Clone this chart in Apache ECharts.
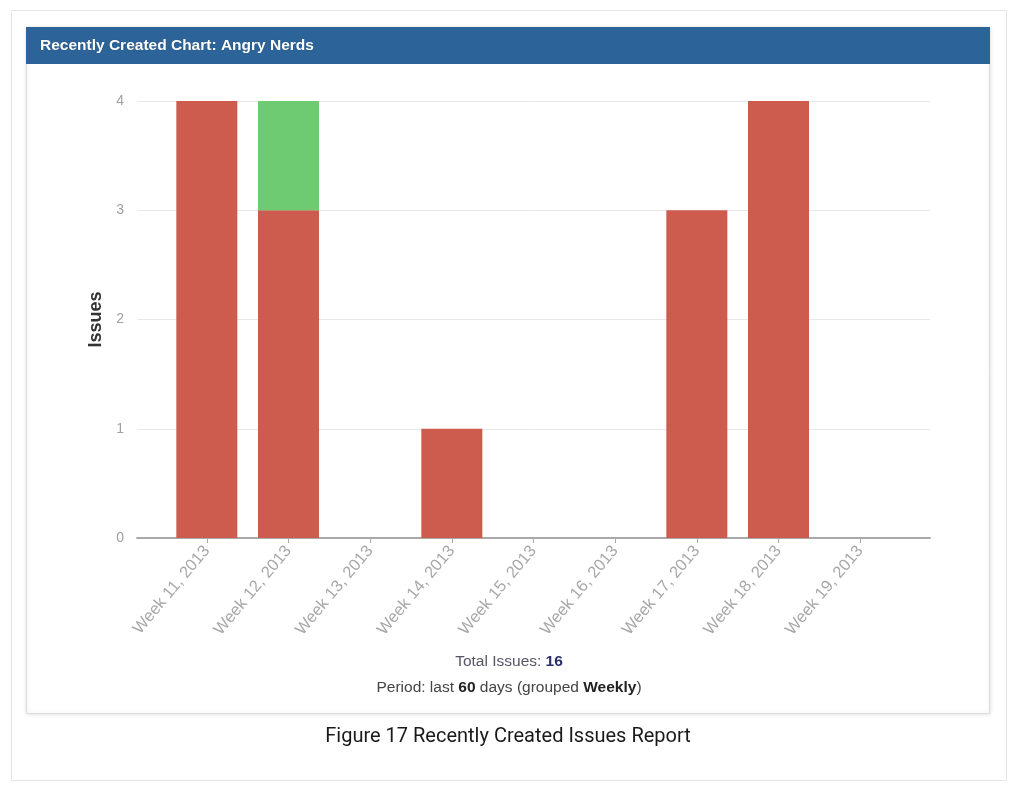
<!DOCTYPE html>
<html>
<head>
<meta charset="utf-8">
<script src="https://cdn.jsdelivr.net/npm/echarts@6/dist/echarts.min.js"></script>
<style>
html,body{margin:0;padding:0;background:#fff;}
#chart{width:1024px;height:801px;}
</style>
</head>
<body>
<div id="chart"></div>
<script>
// ---- data ----
const categories = ['Week 11, 2013','Week 12, 2013','Week 13, 2013','Week 14, 2013','Week 15, 2013','Week 16, 2013','Week 17, 2013','Week 18, 2013','Week 19, 2013'];
const createdValues = [4, 3, 0, 1, 0, 0, 3, 4, 0];
const resolvedValues = [0, 1, 0, 0, 0, 0, 0, 0, 0];
const yTicks = [0, 1, 2, 3, 4];
const chartTitle = 'Recently Created Chart: Angry Nerds';
const totalIssues = 16;
const periodDays = 60;
const groupedBy = 'Weekly';
const caption = 'Figure 17 Recently Created Issues Report';

const chart = echarts.init(document.getElementById('chart'), null, {renderer: 'canvas'});
const sansFont = 'Liberation Sans, Arial, sans-serif';

const option = {
  animation: false,
  backgroundColor: '#ffffff',
  graphic: [
    {type: 'rect', z: -10, shape: {x: 11.5, y: 10.5, width: 995, height: 770}, style: {fill: '#ffffff', stroke: '#e6e6e6', lineWidth: 1}},
    {type: 'rect', z: -9, shape: {x: 26.5, y: 27.5, width: 963, height: 686}, style: {fill: '#ffffff', stroke: '#dcdcdc', lineWidth: 1, shadowBlur: 4, shadowColor: 'rgba(0,0,0,0.12)'}},
    {type: 'rect', z: -8, shape: {x: 26, y: 27, width: 964, height: 37}, style: {fill: '#2c6398'}},
    {type: 'text', z: 10, x: 40, y: 46, style: {text: chartTitle, fill: '#ffffff', font: 'bold 15.5px ' + sansFont, verticalAlign: 'middle', textShadowColor: 'rgba(0,0,0,0.3)', textShadowBlur: 1}},
    {type: 'text', z: 10, x: 509, y: 662, style: {
      text: '{n|Total Issues: }{b|' + totalIssues + '}',
      align: 'center', verticalAlign: 'middle',
      rich: {
        n: {fill: '#555566', font: '15.5px ' + sansFont},
        b: {fill: '#2b2e6b', font: 'bold 15.5px ' + sansFont}
      }
    }},
    {type: 'text', z: 10, x: 509, y: 688, style: {
      text: '{n|Period: last }{b|' + periodDays + '}{n| days (grouped }{b|' + groupedBy + '}{n|)}',
      align: 'center', verticalAlign: 'middle',
      rich: {
        n: {fill: '#444444', font: '15.5px ' + sansFont},
        b: {fill: '#222222', font: 'bold 15.5px ' + sansFont}
      }
    }},
    {type: 'text', z: 10, x: 508, y: 737, style: {text: caption, fill: '#1a1a1a', font: '20px Roboto, sans-serif', align: 'center', verticalAlign: 'middle'}}
  ],
  grid: [
    {left: 137, right: 94, top: 101, bottom: 263},
    {left: 166, right: 123, top: 101, bottom: 263}
  ],
  xAxis: [
    {
      gridIndex: 0, type: 'category', data: [''],
      axisLine: {show: true, lineStyle: {color: '#a9a9a9', width: 2}},
      axisTick: {show: false}, axisLabel: {show: false}, splitLine: {show: false}
    },
    {
      gridIndex: 1, type: 'category', data: categories,
      axisLine: {show: false},
      axisTick: {show: true, alignWithLabel: true, length: 5, lineStyle: {color: '#a9a9a9'}},
      axisLabel: {rotate: 50, color: '#a8a8a8', fontSize: 16.5, fontFamily: sansFont, margin: 10, interval: 0},
      splitLine: {show: false}
    }
  ],
  yAxis: [
    {
      gridIndex: 0, type: 'value', min: yTicks[0], max: yTicks[yTicks.length - 1], interval: 1,
      name: 'Issues', nameLocation: 'middle', nameRotate: 90, nameGap: 29,
      nameTextStyle: {color: '#333333', fontSize: 18, fontWeight: 'bold', fontFamily: sansFont},
      axisLine: {show: false}, axisTick: {show: false},
      axisLabel: {color: '#a0a0a0', fontSize: 14, fontFamily: sansFont, margin: 13},
      splitLine: {show: true, lineStyle: {color: '#e8e8e8', width: 1}}
    },
    {
      gridIndex: 1, type: 'value', min: yTicks[0], max: yTicks[yTicks.length - 1], interval: 1,
      show: false, splitLine: {show: false}
    }
  ],
  series: [
    {
      name: 'Created', type: 'bar', xAxisIndex: 1, yAxisIndex: 1, stack: 'issues',
      data: createdValues, barWidth: 61, itemStyle: {color: '#cd5c4f'}, z: 3
    },
    {
      name: 'Resolved', type: 'bar', xAxisIndex: 1, yAxisIndex: 1, stack: 'issues',
      data: resolvedValues, barWidth: 61, itemStyle: {color: '#6fcb71'}, z: 3
    }
  ]
};
chart.setOption(option);
</script>
</body>
</html>
